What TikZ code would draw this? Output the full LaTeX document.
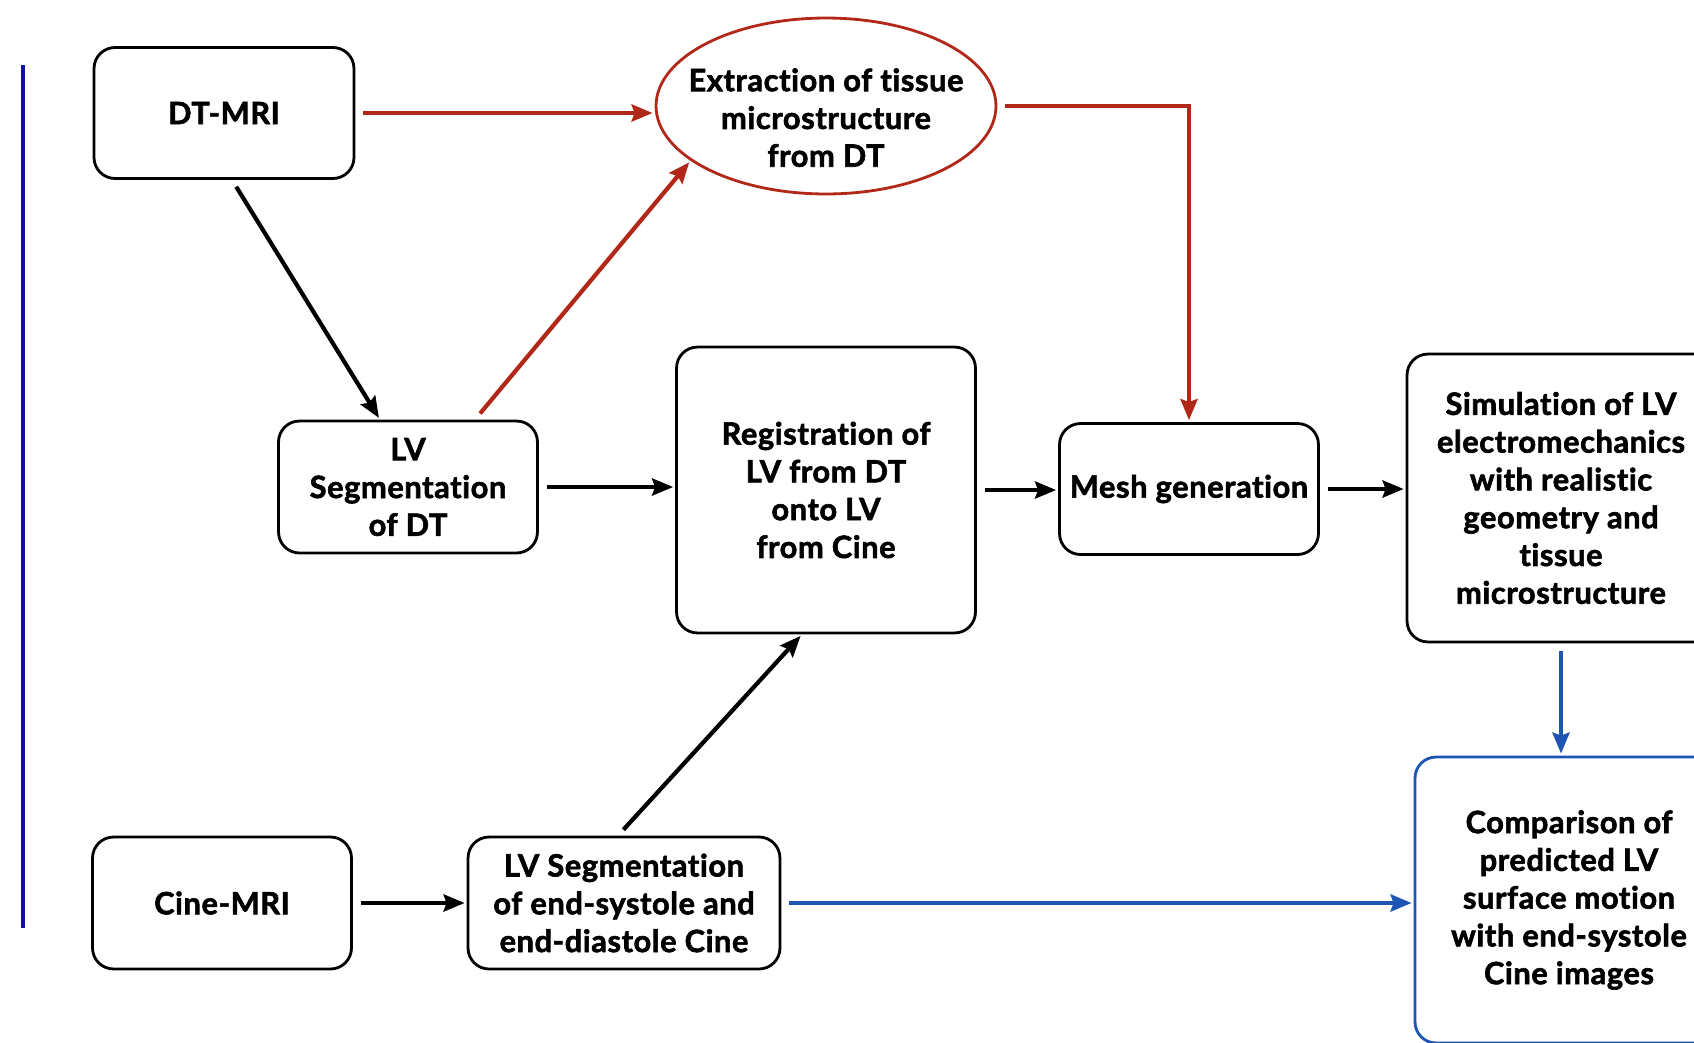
\documentclass[tikz,border=0pt]{standalone}
\usepackage{fontspec}
\setmainfont{Lato}[Ligatures=NoCommon, BoldFeatures={FakeBold=2,LetterSpace=2}]
\usetikzlibrary{arrows.meta,shapes.geometric}

\definecolor{flowred}{RGB}{178,40,24}
\definecolor{flowblue}{RGB}{30,84,178}
\definecolor{barblue}{RGB}{18,18,152}

\tikzset{
  boxtext/.style={font=\bfseries\fontsize{17.5}{21.5}\selectfont},
  stage/.style={boxtext, draw, line width=1.6pt, rounded corners=0.42cm,
    align=center, inner sep=1pt},
  oval/.style={boxtext, ellipse, draw=flowred, line width=1.6pt, inner sep=0pt,
    minimum width=6.8cm, minimum height=3.52cm},
  link/.style={line width=2.4pt, -{Stealth[length=0.42cm, width=0.34cm, inset=0.06cm]},
    shorten <=0.16cm, shorten >=0.04cm},
}

\begin{document}
\begin{tikzpicture}[x=0.02cm, y=-0.02cm]
    \useasboundingbox (0, 0) rectangle (1694, 1042);
    \clip (0, 0) rectangle (1694, 1042);
    % side bar
    \draw [color=barblue, line width=2.2pt] (23, 65) -- (23, 928);
    %
    \node [stage, minimum width=5.2cm, minimum height=2.62cm] (dtmri) at (224, 113) {DT-MRI};
    \node [oval] (extract) at (826, 106)
      {\raisebox{-0.46cm}[0pt][0pt]{\makebox[4cm]{\begin{tabular}{@{}c@{}}Extraction of tissue\\ microstructure\\ from DT\end{tabular}}}};
    %
    \node [stage, minimum width=5.18cm, minimum height=2.64cm] (segdt) at (408, 487)
      {LV\\ Segmentation\\ of DT};
    \node [stage, minimum width=5.98cm, minimum height=5.72cm] (regis) at (826, 490)
      {Registration of\\ LV from DT\\ onto LV\\ from Cine};
    \node [stage, minimum width=5.18cm, minimum height=2.62cm] (mesh) at (1189, 489)
      {Mesh generation};
    \node [stage, minimum width=6.16cm, minimum height=5.76cm] (simul) at (1561, 498)
      {Simulation of LV\\ electromechanics\\ with realistic\\ geometry and\\ tissue\\ microstructure};
    %
    \node [stage, minimum width=5.18cm, minimum height=2.64cm] (cine) at (222, 903) {Cine-MRI};
    \node [stage, minimum width=6.24cm, minimum height=2.64cm] (segcine) at (624, 903)
      {LV Segmentation\\ of end-systole and\\ end-diastole Cine};
    \node [stage, draw=flowblue, minimum width=6.16cm, minimum height=5.72cm] (compare) at (1569, 900)
      {Comparison of\\ predicted LV\\ surface motion\\ with end-systole\\ Cine images};
    %
    % red links
    \draw [link, color=flowred] (dtmri.east) -- (dtmri.east -| extract.west);
    \draw [link, color=flowred] ([xshift=1.34cm]segdt.north) -- (extract.202);
    \draw [link, color=flowred] (extract.east) -| (mesh.north);
    %
    % black links
    \draw [link] ([xshift=0.16cm]dtmri.south) -- ([xshift=-0.56cm]segdt.north);
    \draw [link] (segdt.east) -- (segdt.east -| regis.west);
    \draw [link] (regis.east) -- (regis.east -| mesh.west);
    \draw [link] (mesh.east) -- (mesh.east -| simul.west);
    \draw [link] (cine.east) -- (segcine.west);
    \draw [link] ([xshift=-0.12cm]segcine.north) -- ([xshift=-0.48cm]regis.south);
    %
    % blue links
    \draw [link, color=flowblue] (simul.south) -- (simul.south |- compare.north);
    \draw [link, color=flowblue] (segcine.east) -- (segcine.east -| compare.west);
  \end{tikzpicture}
\end{document}
